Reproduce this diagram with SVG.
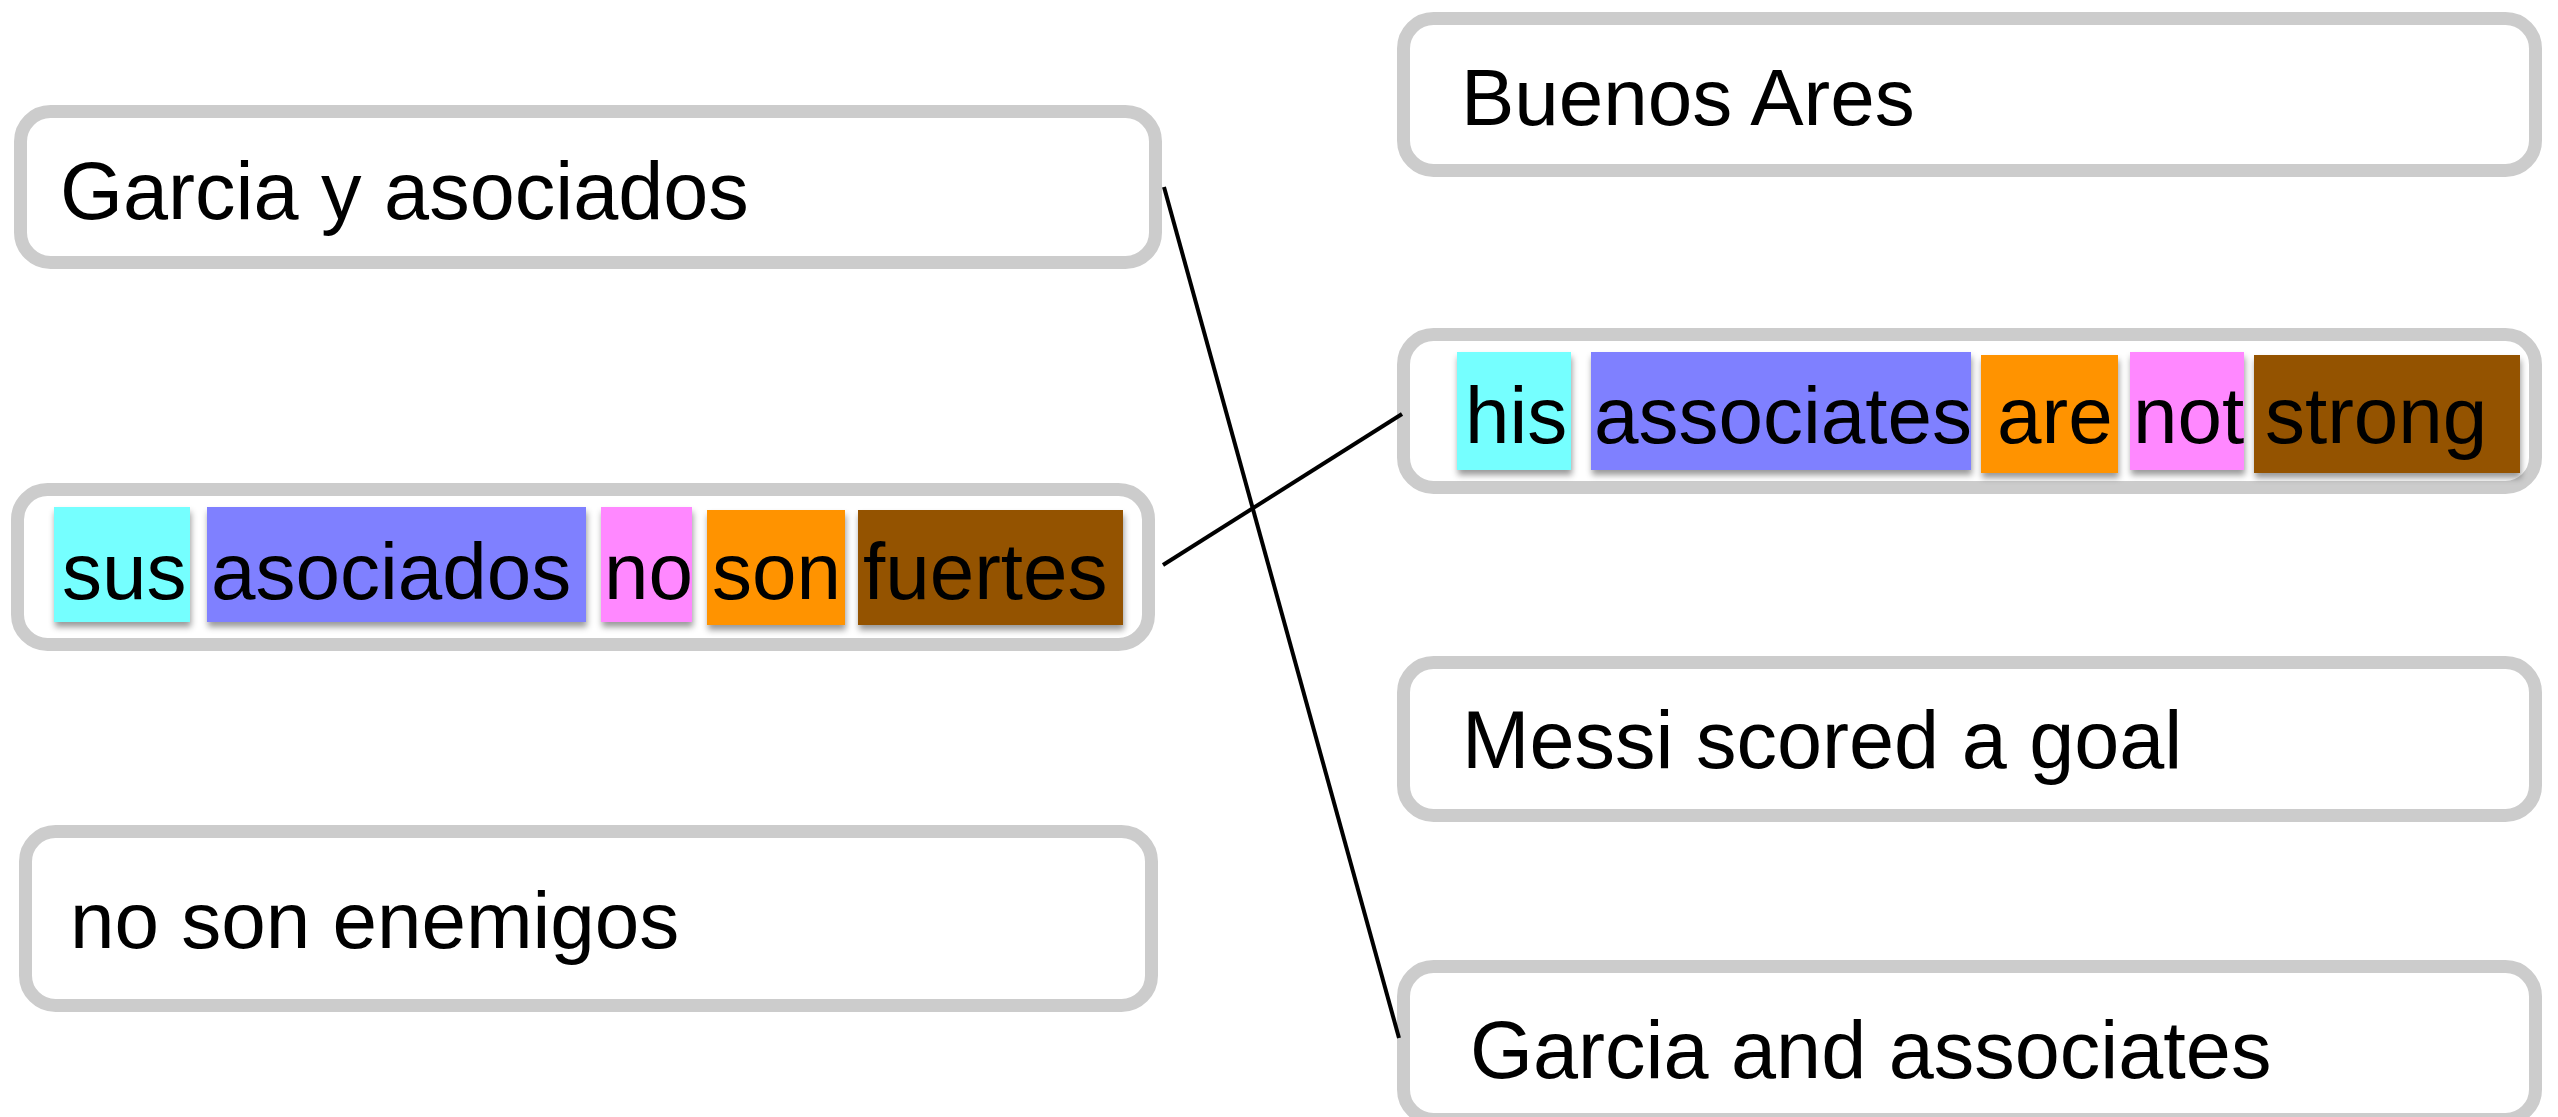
<svg xmlns="http://www.w3.org/2000/svg" width="2558" height="1117" viewBox="0 0 2558 1117">
  <style>
    .frame { fill: #ffffff; stroke: #cccccc; stroke-width: 13; }
    .label { font-family: "Liberation Sans", Arial, sans-serif; font-size: 80px; fill: #000000; }
    .conn { stroke: #000000; stroke-width: 4; fill: none; }
    .cyan { fill: #74ffff; }
    .blue { fill: #7f80ff; }
    .pink { fill: #ff88ff; }
    .orange { fill: #ff9300; }
    .brown { fill: #945200; }
  </style>
  <defs>
    <filter id="shadow" x="-10%" y="-10%" width="120%" height="130%">
      <feDropShadow dx="1" dy="5" stdDeviation="3" flood-color="#000000" flood-opacity="0.4"/>
    </filter>
  </defs>
  <rect width="2558" height="1117" fill="#ffffff"/>

  <g id="node-garcia-y-asociados">
    <rect class="frame" x="20.5" y="111.5" width="1135" height="151" rx="30" ry="30"/>
    <text class="label" x="60" y="219" style="font-size:81px">Garcia y asociados</text>
  </g>

  <g id="node-sus-asociados">
    <rect class="frame" x="17.5" y="489.5" width="1131" height="155" rx="30" ry="30"/>
    <g filter="url(#shadow)">
      <rect class="cyan" x="54" y="507" width="136" height="115"/>
      <rect class="blue" x="207" y="507" width="379" height="115"/>
      <rect class="pink" x="601" y="507" width="91" height="115"/>
      <rect class="orange" x="707" y="510" width="138" height="115"/>
      <rect class="brown" x="858" y="510" width="265" height="115"/>
    </g>
    <text class="label" x="62" y="599">sus</text>
    <text class="label" x="211" y="599">asociados</text>
    <text class="label" x="604" y="599">no</text>
    <text class="label" x="712" y="599">son</text>
    <text class="label" x="863" y="599">fuertes</text>
  </g>

  <g id="node-no-son-enemigos">
    <rect class="frame" x="25.5" y="831.5" width="1126" height="174" rx="30" ry="30"/>
    <text class="label" x="70" y="948">no son enemigos</text>
  </g>

  <g id="node-buenos-ares">
    <rect class="frame" x="1403.5" y="18.5" width="1132" height="152" rx="30" ry="30"/>
    <text class="label" x="1461" y="125">Buenos Ares</text>
  </g>

  <g id="node-his-associates">
    <rect class="frame" x="1403.5" y="334.5" width="1132" height="153" rx="30" ry="30"/>
    <g filter="url(#shadow)">
      <rect class="cyan" x="1457" y="352" width="114" height="118"/>
      <rect class="blue" x="1591" y="352" width="380" height="118"/>
      <rect class="orange" x="1981" y="355" width="137" height="118"/>
      <rect class="pink" x="2130" y="352" width="114" height="118"/>
      <rect class="brown" x="2254" y="355" width="266" height="118"/>
    </g>
    <text class="label" x="1465" y="443">his</text>
    <text class="label" x="1594" y="443">associates</text>
    <text class="label" x="1997" y="443">are</text>
    <text class="label" x="2133" y="443">not</text>
    <text class="label" x="2265" y="443">strong</text>
  </g>

  <g id="node-messi">
    <rect class="frame" x="1403.5" y="662.5" width="1132" height="153" rx="30" ry="30"/>
    <text class="label" x="1462" y="768" style="font-size:81px">Messi scored a goal</text>
  </g>

  <g id="node-garcia-and-associates">
    <rect class="frame" x="1403.5" y="966.5" width="1132" height="153" rx="30" ry="30"/>
    <text class="label" x="1470" y="1078" style="font-size:81px">Garcia and associates</text>
  </g>

  <g id="connectors">
    <line class="conn" x1="1164" y1="187" x2="1399" y2="1038"/>
    <line class="conn" x1="1163" y1="565" x2="1402" y2="414"/>
  </g>
</svg>
